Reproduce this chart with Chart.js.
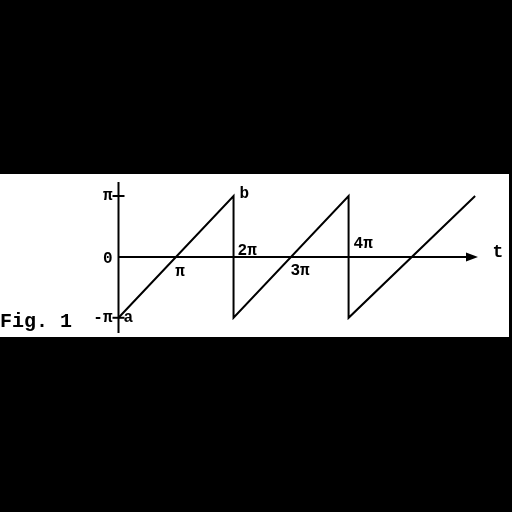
<!DOCTYPE html>
<html>
<head>
<meta charset="utf-8">
<script src="https://cdn.jsdelivr.net/npm/chart.js@4"></script>
<style>
  html, body { margin: 0; padding: 0; background: #000; width: 512px; height: 512px; overflow: hidden; }
  #wrap { position: absolute; left: 0; top: 174px; width: 509px; height: 163px; background: #fff; }
  canvas { display: block; }
</style>
</head>
<body>
<div id="wrap"><canvas id="c" width="509" height="163"></canvas></div>
<script>
// Values in units of π
const tValues   = [0, 2, 2, 4, 4, 6.2];     // t / π
const phiValues = [-1, 1, -1, 1, -1, 1.0];  // φ / π
const yTickValues = [1, 0, -1];
const yTickLabels = ['π', '0', '-π'];
const xTickValues = [1, 2, 3, 4];
const xTickLabels = ['π', '2π', '3π', '4π'];
const pointNames = ['a', 'b'];
const axisName = 't';
const figLabel = 'Fig. 1';

const points = tValues.map((t, i) => ({ x: t, y: phiValues[i] }));
const FONT = 'bold 16px "Liberation Mono", "DejaVu Sans Mono", monospace';
// label offsets (px) relative to tick position on the t axis
const xLabelOffsets = { 1: [4, 15], 2: [4, -6], 3: [9, 14], 4: [5, -13] };

const drawPlugin = {
  id: 'sketch',
  beforeDatasetsDraw(chart) {
    const ctx = chart.ctx;
    const xs = chart.scales.x, ys = chart.scales.y;
    const x0 = xs.getPixelForValue(0), y0 = ys.getPixelForValue(0);
    const xEnd = xs.getPixelForValue(xs.max);
    ctx.save();
    ctx.strokeStyle = '#000';
    ctx.fillStyle = '#000';
    ctx.lineWidth = 2;
    ctx.beginPath();
    ctx.moveTo(x0, chart.chartArea.top);
    ctx.lineTo(x0, chart.chartArea.bottom);
    ctx.stroke();
    ctx.beginPath();
    ctx.moveTo(x0, y0);
    ctx.lineTo(xEnd - 8, y0);
    ctx.stroke();
    ctx.beginPath();
    ctx.moveTo(xEnd, y0);
    ctx.lineTo(xEnd - 12, y0 - 4.5);
    ctx.lineTo(xEnd - 12, y0 + 4.5);
    ctx.closePath();
    ctx.fill();
    [1, -1].forEach(v => {
      const py = ys.getPixelForValue(v);
      ctx.beginPath();
      ctx.moveTo(x0 - 6, py);
      ctx.lineTo(x0 + 6, py);
      ctx.stroke();
    });
    ctx.restore();
  },
  afterDatasetsDraw(chart) {
    const ctx = chart.ctx;
    const xs = chart.scales.x, ys = chart.scales.y;
    const x0 = xs.getPixelForValue(0), y0 = ys.getPixelForValue(0);
    ctx.save();
    ctx.fillStyle = '#000';
    ctx.font = FONT;
    ctx.textBaseline = 'middle';
    ctx.textAlign = 'right';
    yTickLabels.forEach((lab, i) => {
      const v = yTickValues[i];
      ctx.fillText(lab, x0 - 6, ys.getPixelForValue(v) + (v === 0 ? 2 : 0));
    });
    xTickLabels.forEach((lab, i) => {
      const v = xTickValues[i];
      const px = xs.getPixelForValue(v);
      const off = xLabelOffsets[v];
      if (v % 2 === 1) {
        ctx.textAlign = 'center';
        ctx.fillText(lab, px + off[0], y0 + off[1]);
      } else {
        ctx.textAlign = 'left';
        ctx.fillText(lab, px + off[0], y0 + off[1]);
      }
    });
    ctx.textAlign = 'left';
    ctx.fillText(pointNames[0], x0 + 5, ys.getPixelForValue(-1));
    ctx.fillText(pointNames[1], xs.getPixelForValue(2) + 6, ys.getPixelForValue(1) - 2);
    ctx.font = 'bold 18px "Liberation Mono", "DejaVu Sans Mono", monospace';
    ctx.textAlign = 'center';
    ctx.fillText(axisName, 498, y0 - 4);
    ctx.font = 'bold 20px "Liberation Mono", "DejaVu Sans Mono", monospace';
    ctx.textAlign = 'left';
    ctx.textBaseline = 'alphabetic';
    ctx.fillText(figLabel, 0, 327 - 174);
    ctx.restore();
  }
};

new Chart(document.getElementById('c'), {
  type: 'line',
  data: {
    datasets: [{
      data: points,
      borderColor: '#000',
      borderWidth: 2,
      pointRadius: 0,
      tension: 0,
      fill: false
    }]
  },
  options: {
    responsive: false,
    animation: false,
    devicePixelRatio: 1,
    layout: { padding: { left: 118.5, right: 31, top: 8, bottom: 4 } },
    plugins: { legend: { display: false }, tooltip: { enabled: false } },
    scales: {
      x: { type: 'linear', min: 0, max: 6.25, display: false },
      y: { type: 'linear', min: -1.25, max: 1.23, display: false }
    }
  },
  plugins: [drawPlugin]
});
</script>
</body>
</html>
